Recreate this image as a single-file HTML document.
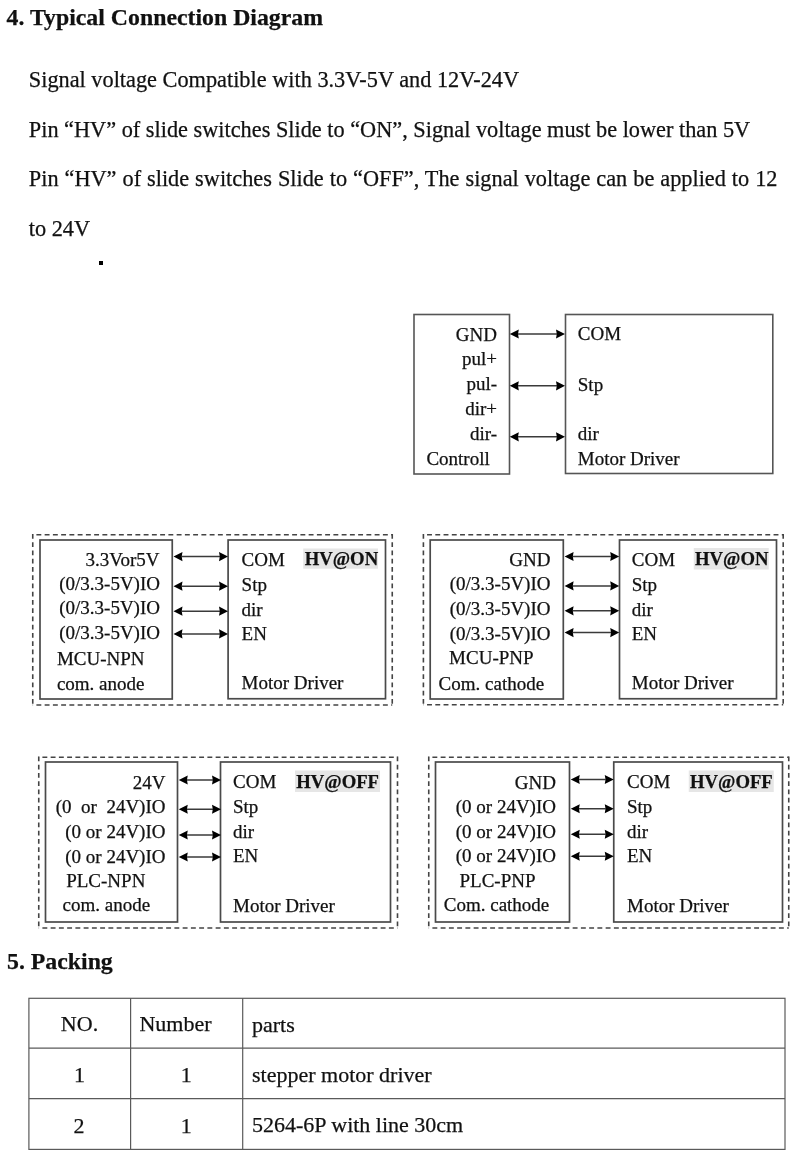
<!DOCTYPE html>
<html><head><meta charset="utf-8"><title>Typical Connection Diagram</title>
<style>
html,body{margin:0;padding:0;background:#fff;width:800px;height:1159px;overflow:hidden;}
svg{display:block;will-change:transform;}
text{stroke:#111;stroke-width:0.25px;font-family:"Liberation Serif",serif;}
</style></head><body>
<svg width="800" height="1159" viewBox="0 0 800 1159">
<text x="6.6" y="25.4" font-size="23.8" font-weight="bold" fill="#111">4. Typical Connection Diagram</text>
<text x="28.8" y="87.2" font-size="22.3" fill="#111">Signal voltage Compatible with 3.3V-5V and 12V-24V</text>
<text x="28.8" y="136.8" font-size="22.3" fill="#111">Pin “HV” of slide switches Slide to “ON”, Signal voltage must be lower than 5V</text>
<text x="28.8" y="186.3" font-size="22.3" fill="#111" word-spacing="0.4">Pin “HV” of slide switches Slide to “OFF”, The signal voltage can be applied to 12</text>
<text x="28.8" y="235.8" font-size="22.3" fill="#111">to 24V</text>
<rect x="99" y="261" width="4" height="4" fill="#000"/>
<rect x="414" y="314.5" width="95.5" height="159.5" fill="none" stroke="#555" stroke-width="1.6"/>
<rect x="565.5" y="314.5" width="207.29999999999995" height="159.0" fill="none" stroke="#555" stroke-width="1.6"/>
<text x="497" y="340.5" font-size="19" text-anchor="end" fill="#111">GND</text>
<text x="497" y="365" font-size="19" text-anchor="end" fill="#111">pul+</text>
<text x="497" y="389.8" font-size="19" text-anchor="end" fill="#111">pul-</text>
<text x="497" y="414.8" font-size="19" text-anchor="end" fill="#111">dir+</text>
<text x="497" y="439.6" font-size="19" text-anchor="end" fill="#111">dir-</text>
<text x="426.4" y="464.5" font-size="19" fill="#111">Controll</text>
<text x="577.8" y="340" font-size="19" fill="#111">COM</text>
<text x="577.8" y="390.5" font-size="19" fill="#111">Stp</text>
<text x="577.8" y="439.6" font-size="19" fill="#111">dir</text>
<text x="577.8" y="464.6" font-size="19" fill="#111">Motor Driver</text>
<line x1="517.8" y1="334" x2="557" y2="334" stroke="#3a3a3a" stroke-width="1.5"/>
<path d="M509.8 334 L518.8 329.4 L518.0 334 L518.8 338.6 Z" fill="#000"/>
<path d="M565 334 L556 329.4 L556.8 334 L556 338.6 Z" fill="#000"/>
<line x1="517.8" y1="385.8" x2="557" y2="385.8" stroke="#3a3a3a" stroke-width="1.5"/>
<path d="M509.8 385.8 L518.8 381.2 L518.0 385.8 L518.8 390.40000000000003 Z" fill="#000"/>
<path d="M565 385.8 L556 381.2 L556.8 385.8 L556 390.40000000000003 Z" fill="#000"/>
<line x1="517.8" y1="436.8" x2="557" y2="436.8" stroke="#3a3a3a" stroke-width="1.5"/>
<path d="M509.8 436.8 L518.8 432.2 L518.0 436.8 L518.8 441.40000000000003 Z" fill="#000"/>
<path d="M565 436.8 L556 432.2 L556.8 436.8 L556 441.40000000000003 Z" fill="#000"/>
<line x1="32.75" y1="534.75" x2="392.25" y2="534.75" stroke="#444" stroke-width="1.6" stroke-dasharray="4.9 3.35" stroke-dashoffset="4.6"/>
<line x1="32.75" y1="705" x2="392.25" y2="705" stroke="#444" stroke-width="1.6" stroke-dasharray="4.9 3.35" stroke-dashoffset="4.6"/>
<line x1="32.75" y1="533.95" x2="32.75" y2="705" stroke="#444" stroke-width="1.6" stroke-dasharray="4.9 3.35"/>
<line x1="392.25" y1="533.95" x2="392.25" y2="705" stroke="#444" stroke-width="1.6" stroke-dasharray="4.9 3.35"/>
<rect x="40" y="540" width="132.25" height="159" fill="none" stroke="#4a4a4a" stroke-width="1.7"/>
<rect x="228.1" y="540" width="157.4" height="158.75" fill="none" stroke="#4a4a4a" stroke-width="1.7"/>
<text x="159.5" y="565.6" font-size="19" text-anchor="end" fill="#111">3.3Vor5V</text>
<text x="160" y="589.8" font-size="19" text-anchor="end" fill="#111">(0/3.3-5V)IO</text>
<text x="160" y="614.2" font-size="19" text-anchor="end" fill="#111">(0/3.3-5V)IO</text>
<text x="160" y="639.2" font-size="19" text-anchor="end" fill="#111">(0/3.3-5V)IO</text>
<text x="56.9" y="664.9" font-size="19" fill="#111">MCU-NPN</text>
<text x="56.9" y="690" font-size="19" fill="#111">com. anode</text>
<rect x="303.2" y="548.5" width="74.80000000000001" height="20.200000000000045" fill="#e6e6e6"/>
<text x="241.6" y="565.5" font-size="19" fill="#111">COM</text>
<text x="241.6" y="590.5" font-size="19" fill="#111">Stp</text>
<text x="241.6" y="615.5" font-size="19" fill="#111">dir</text>
<text x="241.6" y="640.0" font-size="19" fill="#111">EN</text>
<text x="241.6" y="689.25" font-size="19" fill="#111">Motor Driver</text>
<text x="304.7" y="565.4" font-size="18.7" font-weight="bold" fill="#111">HV@ON</text>
<line x1="181.5" y1="556.6" x2="220" y2="556.6" stroke="#3a3a3a" stroke-width="1.5"/>
<path d="M173.5 556.6 L182.5 552.0 L181.7 556.6 L182.5 561.2 Z" fill="#000"/>
<path d="M228 556.6 L219 552.0 L219.8 556.6 L219 561.2 Z" fill="#000"/>
<line x1="181.5" y1="586.2" x2="220" y2="586.2" stroke="#3a3a3a" stroke-width="1.5"/>
<path d="M173.5 586.2 L182.5 581.6 L181.7 586.2 L182.5 590.8000000000001 Z" fill="#000"/>
<path d="M228 586.2 L219 581.6 L219.8 586.2 L219 590.8000000000001 Z" fill="#000"/>
<line x1="181.5" y1="611.2" x2="220" y2="611.2" stroke="#3a3a3a" stroke-width="1.5"/>
<path d="M173.5 611.2 L182.5 606.6 L181.7 611.2 L182.5 615.8000000000001 Z" fill="#000"/>
<path d="M228 611.2 L219 606.6 L219.8 611.2 L219 615.8000000000001 Z" fill="#000"/>
<line x1="181.5" y1="633.9" x2="220" y2="633.9" stroke="#3a3a3a" stroke-width="1.5"/>
<path d="M173.5 633.9 L182.5 629.3 L181.7 633.9 L182.5 638.5 Z" fill="#000"/>
<path d="M228 633.9 L219 629.3 L219.8 633.9 L219 638.5 Z" fill="#000"/>
<line x1="423.4" y1="534.7" x2="783.2" y2="534.7" stroke="#444" stroke-width="1.6" stroke-dasharray="4.9 3.35" stroke-dashoffset="4.6"/>
<line x1="423.4" y1="704.8" x2="783.2" y2="704.8" stroke="#444" stroke-width="1.6" stroke-dasharray="4.9 3.35" stroke-dashoffset="4.6"/>
<line x1="423.4" y1="533.9000000000001" x2="423.4" y2="704.8" stroke="#444" stroke-width="1.6" stroke-dasharray="4.9 3.35"/>
<line x1="783.2" y1="533.9000000000001" x2="783.2" y2="704.8" stroke="#444" stroke-width="1.6" stroke-dasharray="4.9 3.35"/>
<rect x="430.2" y="540" width="133.09999999999997" height="159" fill="none" stroke="#4a4a4a" stroke-width="1.7"/>
<rect x="619.5" y="540" width="157.0" height="158.75" fill="none" stroke="#4a4a4a" stroke-width="1.7"/>
<text x="550.5" y="565.7" font-size="19" text-anchor="end" fill="#111">GND</text>
<text x="550.5" y="590" font-size="19" text-anchor="end" fill="#111">(0/3.3-5V)IO</text>
<text x="550.5" y="615" font-size="19" text-anchor="end" fill="#111">(0/3.3-5V)IO</text>
<text x="550.5" y="639.8" font-size="19" text-anchor="end" fill="#111">(0/3.3-5V)IO</text>
<text x="449.1" y="664.1" font-size="19" fill="#111">MCU-PNP</text>
<text x="438.6" y="689.7" font-size="19" fill="#111">Com. cathode</text>
<rect x="693.75" y="548" width="75.0" height="21.5" fill="#e6e6e6"/>
<text x="631.75" y="565.5" font-size="19" fill="#111">COM</text>
<text x="631.75" y="590.5" font-size="19" fill="#111">Stp</text>
<text x="631.75" y="615.5" font-size="19" fill="#111">dir</text>
<text x="631.75" y="640.0" font-size="19" fill="#111">EN</text>
<text x="631.75" y="689.25" font-size="19" fill="#111">Motor Driver</text>
<text x="695" y="565.4" font-size="18.7" font-weight="bold" fill="#111">HV@ON</text>
<line x1="572.6" y1="556.5" x2="611.2" y2="556.5" stroke="#3a3a3a" stroke-width="1.5"/>
<path d="M564.6 556.5 L573.6 551.9 L572.8000000000001 556.5 L573.6 561.1 Z" fill="#000"/>
<path d="M619.2 556.5 L610.2 551.9 L611.0 556.5 L610.2 561.1 Z" fill="#000"/>
<line x1="572.6" y1="585.9" x2="611.2" y2="585.9" stroke="#3a3a3a" stroke-width="1.5"/>
<path d="M564.6 585.9 L573.6 581.3 L572.8000000000001 585.9 L573.6 590.5 Z" fill="#000"/>
<path d="M619.2 585.9 L610.2 581.3 L611.0 585.9 L610.2 590.5 Z" fill="#000"/>
<line x1="572.6" y1="610.8" x2="611.2" y2="610.8" stroke="#3a3a3a" stroke-width="1.5"/>
<path d="M564.6 610.8 L573.6 606.1999999999999 L572.8000000000001 610.8 L573.6 615.4 Z" fill="#000"/>
<path d="M619.2 610.8 L610.2 606.1999999999999 L611.0 610.8 L610.2 615.4 Z" fill="#000"/>
<line x1="572.6" y1="632.6" x2="611.2" y2="632.6" stroke="#3a3a3a" stroke-width="1.5"/>
<path d="M564.6 632.6 L573.6 628.0 L572.8000000000001 632.6 L573.6 637.2 Z" fill="#000"/>
<path d="M619.2 632.6 L610.2 628.0 L611.0 632.6 L610.2 637.2 Z" fill="#000"/>
<line x1="38.75" y1="757.25" x2="397.5" y2="757.25" stroke="#444" stroke-width="1.6" stroke-dasharray="4.9 3.35" stroke-dashoffset="4.6"/>
<line x1="38.75" y1="928" x2="397.5" y2="928" stroke="#444" stroke-width="1.6" stroke-dasharray="4.9 3.35" stroke-dashoffset="4.6"/>
<line x1="38.75" y1="756.45" x2="38.75" y2="928" stroke="#444" stroke-width="1.6" stroke-dasharray="4.9 3.35"/>
<line x1="397.5" y1="756.45" x2="397.5" y2="928" stroke="#444" stroke-width="1.6" stroke-dasharray="4.9 3.35"/>
<rect x="45.5" y="762" width="132.0" height="160" fill="none" stroke="#4a4a4a" stroke-width="1.7"/>
<rect x="220.5" y="762" width="170.0" height="160" fill="none" stroke="#4a4a4a" stroke-width="1.7"/>
<text x="165.5" y="788.5" font-size="19" text-anchor="end" fill="#111" xml:space="preserve">24V</text>
<text x="165.5" y="812.5" font-size="19" text-anchor="end" fill="#111" xml:space="preserve">(0  or  24V)IO</text>
<text x="165.5" y="837.5" font-size="19" text-anchor="end" fill="#111" xml:space="preserve">(0 or 24V)IO</text>
<text x="165.5" y="862.8" font-size="19" text-anchor="end" fill="#111" xml:space="preserve">(0 or 24V)IO</text>
<text x="66.2" y="887" font-size="19" fill="#111" xml:space="preserve">PLC-NPN</text>
<text x="62.5" y="911.25" font-size="19" fill="#111" xml:space="preserve">com. anode</text>
<rect x="295" y="770.5" width="85" height="21.5" fill="#e6e6e6"/>
<text x="233" y="788" font-size="19" fill="#111">COM</text>
<text x="233" y="812.5" font-size="19" fill="#111">Stp</text>
<text x="233" y="837.5" font-size="19" fill="#111">dir</text>
<text x="233" y="862" font-size="19" fill="#111">EN</text>
<text x="233" y="912" font-size="19" fill="#111">Motor Driver</text>
<text x="296.25" y="788.4" font-size="18.7" font-weight="bold" fill="#111">HV@OFF</text>
<line x1="186.75" y1="780" x2="213" y2="780" stroke="#3a3a3a" stroke-width="1.5"/>
<path d="M178.75 780 L187.75 775.4 L186.95 780 L187.75 784.6 Z" fill="#000"/>
<path d="M221 780 L212 775.4 L212.8 780 L212 784.6 Z" fill="#000"/>
<line x1="186.75" y1="809.25" x2="213" y2="809.25" stroke="#3a3a3a" stroke-width="1.5"/>
<path d="M178.75 809.25 L187.75 804.65 L186.95 809.25 L187.75 813.85 Z" fill="#000"/>
<path d="M221 809.25 L212 804.65 L212.8 809.25 L212 813.85 Z" fill="#000"/>
<line x1="186.75" y1="835" x2="213" y2="835" stroke="#3a3a3a" stroke-width="1.5"/>
<path d="M178.75 835 L187.75 830.4 L186.95 835 L187.75 839.6 Z" fill="#000"/>
<path d="M221 835 L212 830.4 L212.8 835 L212 839.6 Z" fill="#000"/>
<line x1="186.75" y1="857" x2="213" y2="857" stroke="#3a3a3a" stroke-width="1.5"/>
<path d="M178.75 857 L187.75 852.4 L186.95 857 L187.75 861.6 Z" fill="#000"/>
<path d="M221 857 L212 852.4 L212.8 857 L212 861.6 Z" fill="#000"/>
<line x1="428.75" y1="757.25" x2="788.75" y2="757.25" stroke="#444" stroke-width="1.6" stroke-dasharray="4.9 3.35" stroke-dashoffset="4.6"/>
<line x1="428.75" y1="928" x2="788.75" y2="928" stroke="#444" stroke-width="1.6" stroke-dasharray="4.9 3.35" stroke-dashoffset="4.6"/>
<line x1="428.75" y1="756.45" x2="428.75" y2="928" stroke="#444" stroke-width="1.6" stroke-dasharray="4.9 3.35"/>
<line x1="788.75" y1="756.45" x2="788.75" y2="928" stroke="#444" stroke-width="1.6" stroke-dasharray="4.9 3.35"/>
<rect x="435.5" y="762" width="134.0" height="160" fill="none" stroke="#4a4a4a" stroke-width="1.7"/>
<rect x="613.75" y="762" width="168.75" height="160" fill="none" stroke="#4a4a4a" stroke-width="1.7"/>
<text x="556" y="788.5" font-size="19" text-anchor="end" fill="#111" xml:space="preserve">GND</text>
<text x="556" y="812.5" font-size="19" text-anchor="end" fill="#111" xml:space="preserve">(0 or 24V)IO</text>
<text x="556" y="837.5" font-size="19" text-anchor="end" fill="#111" xml:space="preserve">(0 or 24V)IO</text>
<text x="556" y="862" font-size="19" text-anchor="end" fill="#111" xml:space="preserve">(0 or 24V)IO</text>
<text x="459.5" y="887" font-size="19" fill="#111" xml:space="preserve">PLC-PNP</text>
<text x="443.75" y="911.25" font-size="19" fill="#111" xml:space="preserve">Com. cathode</text>
<rect x="688.75" y="770.5" width="85.0" height="21.5" fill="#e6e6e6"/>
<text x="627" y="788" font-size="19" fill="#111">COM</text>
<text x="627" y="812.5" font-size="19" fill="#111">Stp</text>
<text x="627" y="837.5" font-size="19" fill="#111">dir</text>
<text x="627" y="862" font-size="19" fill="#111">EN</text>
<text x="627" y="912" font-size="19" fill="#111">Motor Driver</text>
<text x="690" y="788.4" font-size="18.7" font-weight="bold" fill="#111">HV@OFF</text>
<line x1="578.75" y1="779.5" x2="605.75" y2="779.5" stroke="#3a3a3a" stroke-width="1.5"/>
<path d="M570.75 779.5 L579.75 774.9 L578.95 779.5 L579.75 784.1 Z" fill="#000"/>
<path d="M613.75 779.5 L604.75 774.9 L605.55 779.5 L604.75 784.1 Z" fill="#000"/>
<line x1="578.75" y1="808.75" x2="605.75" y2="808.75" stroke="#3a3a3a" stroke-width="1.5"/>
<path d="M570.75 808.75 L579.75 804.15 L578.95 808.75 L579.75 813.35 Z" fill="#000"/>
<path d="M613.75 808.75 L604.75 804.15 L605.55 808.75 L604.75 813.35 Z" fill="#000"/>
<line x1="578.75" y1="834.25" x2="605.75" y2="834.25" stroke="#3a3a3a" stroke-width="1.5"/>
<path d="M570.75 834.25 L579.75 829.65 L578.95 834.25 L579.75 838.85 Z" fill="#000"/>
<path d="M613.75 834.25 L604.75 829.65 L605.55 834.25 L604.75 838.85 Z" fill="#000"/>
<line x1="578.75" y1="856.25" x2="605.75" y2="856.25" stroke="#3a3a3a" stroke-width="1.5"/>
<path d="M570.75 856.25 L579.75 851.65 L578.95 856.25 L579.75 860.85 Z" fill="#000"/>
<path d="M613.75 856.25 L604.75 851.65 L605.55 856.25 L604.75 860.85 Z" fill="#000"/>
<text x="7" y="969.25" font-size="23.8" font-weight="bold" fill="#111">5. Packing</text>
<rect x="28.9" y="998.3" width="756.1" height="151.10000000000014" fill="none" stroke="#5a5a5a" stroke-width="1.2"/>
<line x1="28.9" y1="1048.1" x2="785" y2="1048.1" stroke="#5a5a5a" stroke-width="1.2"/>
<line x1="28.9" y1="1098.7" x2="785" y2="1098.7" stroke="#5a5a5a" stroke-width="1.2"/>
<line x1="130.6" y1="998.3" x2="130.6" y2="1149.4" stroke="#5a5a5a" stroke-width="1.2"/>
<line x1="242.7" y1="998.3" x2="242.7" y2="1149.4" stroke="#5a5a5a" stroke-width="1.2"/>
<text x="79.5" y="1031" font-size="22" text-anchor="middle" fill="#111">NO.</text>
<text x="175.5" y="1031" font-size="22" text-anchor="middle" fill="#111">Number</text>
<text x="252" y="1031.5" font-size="22" fill="#111">parts</text>
<text x="79.5" y="1081.9" font-size="22" text-anchor="middle" fill="#111">1</text>
<text x="186.3" y="1081.9" font-size="22" text-anchor="middle" fill="#111">1</text>
<text x="252" y="1081.6" font-size="22" fill="#111">stepper motor driver</text>
<text x="79" y="1132.5" font-size="22" text-anchor="middle" fill="#111">2</text>
<text x="186.3" y="1132.5" font-size="22" text-anchor="middle" fill="#111">1</text>
<text x="252" y="1132" font-size="22" fill="#111">5264-6P with line 30cm</text>
</svg>
</body></html>
